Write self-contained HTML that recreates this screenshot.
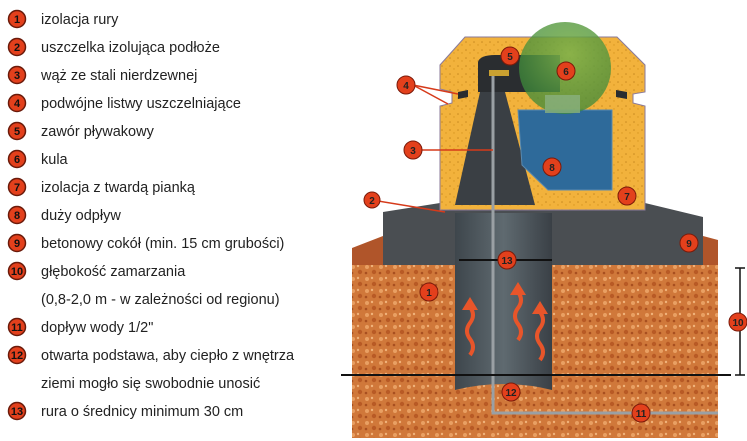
<!DOCTYPE html>
<html><head><meta charset="utf-8"><style>
html,body{margin:0;padding:0;background:#fff;width:747px;height:441px;overflow:hidden}
svg{display:block}
</style></head><body>
<svg width="747" height="441" viewBox="0 0 747 441" xmlns="http://www.w3.org/2000/svg" font-family="Liberation Sans, sans-serif">
<defs>
<pattern id="soil" width="14" height="12" patternUnits="userSpaceOnUse">
<rect width="14" height="12" fill="#d0783a"/>
<circle cx="3" cy="3" r="2" fill="#e9a063"/><circle cx="10" cy="8" r="2.2" fill="#b85a25"/>
<circle cx="8" cy="2" r="1.2" fill="#f0b27a"/><circle cx="2" cy="9" r="1.3" fill="#a84f20"/>
</pattern>
<pattern id="foam" width="8" height="8" patternUnits="userSpaceOnUse">
<rect width="8" height="8" fill="#f2b23c"/><circle cx="2" cy="2" r="0.8" fill="#c98a20"/><circle cx="6" cy="5" r="0.7" fill="#d8961f"/>
</pattern>
<linearGradient id="tube" x1="0" x2="1"><stop offset="0" stop-color="#3e464c"/><stop offset="0.5" stop-color="#5f6a70"/><stop offset="1" stop-color="#3a4046"/></linearGradient>
<radialGradient id="ball" cx="0.55" cy="0.35" r="0.6"><stop offset="0" stop-color="#7fb24a" stop-opacity="0.9"/><stop offset="1" stop-color="#3d8a3a" stop-opacity="0.75"/></radialGradient>
</defs>
<path d="M352 248 L383 236 L383 265 L352 265Z" fill="#b0552a"/>
<path d="M703 236 L718 240 L718 265 L703 265Z" fill="#b0552a"/>
<rect x="352" y="265" width="366" height="173" fill="url(#soil)"/>
<path d="M383 212 L440 203 L645 203 L703 217 L703 265 L383 265Z" fill="#4a4e52"/>
<rect x="455" y="213" width="97" height="177" fill="url(#tube)"/>
<path d="M455 390 Q503 378 552 390 L552 395 L455 395Z" fill="url(#soil)"/>
<path d="M465 37 L617 37 L645 65 L645 92 L633 94 L633 103 L645 106 L645 210 L440 210 L440 106 L452 103 L452 92 L440 89 L440 65 Z" fill="url(#foam)" stroke="#8a7a9a" stroke-width="1"/>
<path d="M458 92 L468 90 L468 97 L458 99Z" fill="#2a2d30"/>
<path d="M616 90 L627 92 L627 99 L616 97Z" fill="#2a2d30"/>
<path d="M478 62 Q480 55 495 55 L560 55 L560 92 L478 92Z" fill="#2a2d30"/>
<path d="M480 92 L505 92 L535 205 L455 205Z" fill="#3a3f44"/>
<path d="M518 110 L612 110 L612 190 L548 190 L522 165Z" fill="#2e6a9a" stroke="#5a8ab0"/>
<circle cx="565" cy="68" r="46" fill="url(#ball)"/>
<rect x="545" y="95" width="35" height="18" fill="#8ab080" opacity="0.8"/>
<path d="M493 75 L493 413 L718 413" fill="none" stroke="#9aa0a4" stroke-width="3"/>
<rect x="489" y="70" width="20" height="6" fill="#c9a030"/>
<g fill="none" stroke="#e8552a" stroke-width="4">
<path d="M470 355 q6 -8 0 -16 q-6 -8 0 -16 q6 -8 0 -16"/>
<path d="M518 340 q6 -8 0 -16 q-6 -8 0 -16 q6 -8 0 -16"/>
<path d="M540 360 q6 -8 0 -16 q-6 -8 0 -16 q6 -8 0 -16"/>
</g>
<g fill="#e8552a">
<polygon points="462,310 478,310 470,297"/><polygon points="510,295 526,295 518,282"/><polygon points="532,314 548,314 540,301"/>
</g>
<line x1="459" y1="260" x2="552" y2="260" stroke="#111" stroke-width="2"/>
<line x1="341" y1="375" x2="731" y2="375" stroke="#111" stroke-width="2"/>
<g stroke="#111" stroke-width="1.5"><line x1="740" y1="268" x2="740" y2="375"/><line x1="735" y1="268" x2="745" y2="268"/><line x1="735" y1="375" x2="745" y2="375"/></g>
<g stroke="#d63a1a" stroke-width="1.5"><line x1="413" y1="85" x2="458" y2="94"/><line x1="413" y1="85" x2="448" y2="104"/><line x1="413" y1="150" x2="493" y2="150"/><line x1="372" y1="200" x2="445" y2="212"/></g>
<g font-size="10" font-weight="bold" text-anchor="middle" fill="#222">
<g fill="#e3401c" stroke="#7a1a0a" stroke-width="1">
<circle cx="429" cy="292" r="9"/><circle cx="372" cy="200" r="8"/><circle cx="413" cy="150" r="9"/><circle cx="406" cy="85" r="9"/><circle cx="510" cy="56" r="9"/><circle cx="566" cy="71" r="9"/><circle cx="627" cy="196" r="9"/><circle cx="552" cy="167" r="9"/><circle cx="689" cy="243" r="9"/><circle cx="738" cy="322" r="9"/><circle cx="641" cy="413" r="9"/><circle cx="511" cy="392" r="9"/><circle cx="507" cy="260" r="9"/>
</g>
<text x="429" y="296">1</text><text x="372" y="204">2</text><text x="413" y="154">3</text><text x="406" y="89">4</text><text x="510" y="60">5</text><text x="566" y="75">6</text><text x="627" y="200">7</text><text x="552" y="171">8</text><text x="689" y="247">9</text><text x="738" y="326">10</text><text x="641" y="417">11</text><text x="511" y="396">12</text><text x="507" y="264">13</text>
</g>
<g fill="#e3401c" stroke="#6a1a0a" stroke-width="1.5">
<circle cx="17" cy="19" r="8.5"/><circle cx="17" cy="47" r="8.5"/><circle cx="17" cy="75" r="8.5"/><circle cx="17" cy="103" r="8.5"/><circle cx="17" cy="131" r="8.5"/><circle cx="17" cy="159" r="8.5"/><circle cx="17" cy="187" r="8.5"/><circle cx="17" cy="215" r="8.5"/><circle cx="17" cy="243" r="8.5"/><circle cx="17" cy="271" r="8.5"/><circle cx="17" cy="327" r="8.5"/><circle cx="17" cy="355" r="8.5"/><circle cx="17" cy="411" r="8.5"/>
</g>
<g font-size="11" font-weight="bold" text-anchor="middle" fill="#111">
<text x="17" y="23">1</text><text x="17" y="51">2</text><text x="17" y="79">3</text><text x="17" y="107">4</text><text x="17" y="135">5</text><text x="17" y="163">6</text><text x="17" y="191">7</text><text x="17" y="219">8</text><text x="17" y="247">9</text><text x="17" y="275">10</text><text x="17" y="331">11</text><text x="17" y="359">12</text><text x="17" y="415">13</text>
</g>
<g font-size="14.5" fill="#222">
<text x="41" y="24">izolacja rury</text>
<text x="41" y="52">uszczelka izolująca podłoże</text>
<text x="41" y="80">wąż ze stali nierdzewnej</text>
<text x="41" y="108">podwójne listwy uszczelniające</text>
<text x="41" y="136">zawór pływakowy</text>
<text x="41" y="164">kula</text>
<text x="41" y="192">izolacja z twardą pianką</text>
<text x="41" y="220">duży odpływ</text>
<text x="41" y="248">betonowy cokół (min. 15 cm grubości)</text>
<text x="41" y="276">głębokość zamarzania</text>
<text x="41" y="304">(0,8-2,0 m - w zależności od regionu)</text>
<text x="41" y="332">dopływ wody 1/2"</text>
<text x="41" y="360">otwarta podstawa, aby ciepło z wnętrza</text>
<text x="41" y="388">ziemi mogło się swobodnie unosić</text>
<text x="41" y="416">rura o średnicy minimum 30 cm</text>
</g>
</svg>
</body></html>
